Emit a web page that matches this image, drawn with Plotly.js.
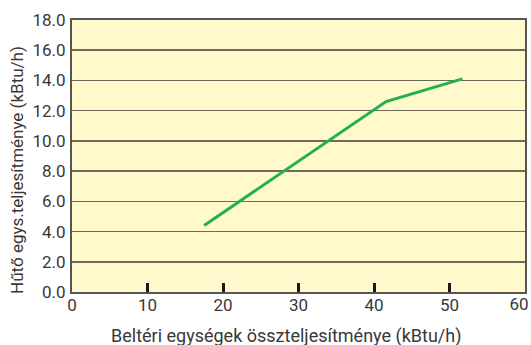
<!DOCTYPE html>
<html>
<head>
<meta charset="utf-8">
<script src="https://cdn.plot.ly/plotly-3.0.1.min.js"></script>
<style>
  html, body { margin: 0; padding: 0; background: #ffffff; }
  #chart { width: 531px; height: 345px; }
</style>
</head>
<body>
<div id="chart"></div>
<script>
// Total indoor unit capacity vs. cooling capacity of the outdoor unit
const indoorTotal = [17.5, 41.6, 51.7];   // kBtu/h
const coolingCap  = [4.4, 12.6, 14.1];    // kBtu/h

const xLabelVals = [0, 10, 20, 30, 40, 50];
const xLastVal = [60];
const xTickMarks = [10, 20, 30, 40, 50];
const yTickVals = [0, 2, 4, 6, 8, 10, 12, 14, 16, 18];

const xTitle = 'Beltéri egységek összteljesítménye (kBtu/h)';
const yTitle = 'Hűtő egys.teljesítménye (kBtu/h)';

const fontFamily = 'Roboto, "DejaVu Sans", sans-serif';
const textColor = '#383838';

const mainLine = {
  x: indoorTotal,
  y: coolingCap,
  type: 'scatter',
  mode: 'lines',
  line: { color: '#22b14c', width: 3 },
  hoverinfo: 'skip'
};

// transparent copies so the overlaid helper axes get drawn
const helper = (axis) => ({
  x: indoorTotal,
  y: coolingCap,
  xaxis: axis,
  type: 'scatter',
  mode: 'lines',
  opacity: 0,
  line: { width: 0 },
  hoverinfo: 'skip'
});

const baseX = {
  range: [0, 60],
  showgrid: false,
  zeroline: false,
  fixedrange: true
};

const layout = {
  width: 531,
  height: 345,
  margin: { l: 72, r: 6, t: 20, b: 53 },
  paper_bgcolor: '#ffffff',
  plot_bgcolor: '#fff9cc',
  showlegend: false,
  font: { family: fontFamily, color: textColor, size: 17 },
  xaxis: Object.assign({}, baseX, {
    tickvals: xLabelVals,
    ticktext: xLabelVals.map(String),
    ticks: '',
    showline: true,
    mirror: true,
    linecolor: '#555555',
    linewidth: 2,
    tickfont: { size: 17, color: textColor },
    ticklabelstandoff: -3
  }),
  // short heavy tick marks inside the plot
  xaxis2: Object.assign({}, baseX, {
    overlaying: 'x',
    anchor: 'y',
    side: 'bottom',
    tickvals: xTickMarks,
    ticks: 'inside',
    ticklen: 9,
    tickwidth: 3,
    tickcolor: '#1a1a1a',
    showticklabels: false,
    showline: false
  }),
  // last label, nudged inwards so it stays inside the page
  xaxis3: Object.assign({}, baseX, {
    overlaying: 'x',
    anchor: 'y',
    side: 'bottom',
    tickvals: xLastVal,
    ticktext: xLastVal.map(String),
    ticks: '',
    showline: false,
    tickfont: { size: 17, color: textColor },
    ticklabelstandoff: 0,
    ticklabelshift: -6,
    ticklabeloverflow: 'allow'
  }),
  yaxis: {
    range: [0, 18],
    tickvals: yTickVals,
    tickformat: '.1f',
    ticks: '',
    showgrid: true,
    gridcolor: '#6e6a58',
    gridwidth: 1.5,
    zeroline: false,
    showline: true,
    mirror: true,
    linecolor: '#555555',
    linewidth: 2,
    tickfont: { size: 17, color: textColor },
    ticklabelstandoff: 1,
    fixedrange: true
  },
  annotations: [
    {
      text: xTitle,
      xref: 'paper', yref: 'paper',
      x: 0.4724, y: -0.161,
      xanchor: 'center', yanchor: 'middle',
      showarrow: false,
      font: { size: 18, color: textColor }
    },
    {
      text: yTitle,
      xref: 'paper', yref: 'paper',
      x: -0.1214, y: 0.449,
      xanchor: 'center', yanchor: 'middle',
      textangle: -90,
      showarrow: false,
      font: { size: 17, color: textColor }
    }
  ]
};

Plotly.newPlot('chart', [mainLine, helper('x2'), helper('x3')], layout,
  { staticPlot: true, displayModeBar: false });
</script>
</body>
</html>
